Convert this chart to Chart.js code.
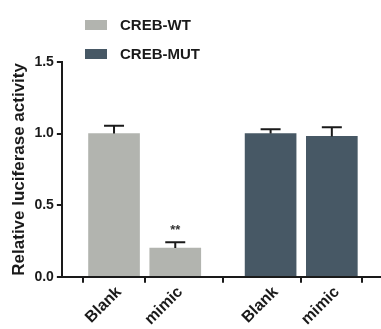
<!DOCTYPE html>
<html>
<head>
<meta charset="utf-8">
<script src="https://cdn.jsdelivr.net/npm/chart.js@4"></script>
<style>
  body { margin: 0; background: #fff; }
  #wrap { position: relative; width: 381px; height: 329px; }
  #legend { position: absolute; left: 85px; top: 10px; font: bold 15px "Liberation Sans", Arial, sans-serif; color: #1a1a1a; }
  .item { display: flex; align-items: center; height: 29px; }
  .box { width: 22px; height: 10px; margin-right: 13px; }
</style>
</head>
<body>
<div id="wrap">
  <canvas id="grafico"></canvas>
  <div id="legend"></div>
</div>
<script>
  const categorias = ['Blank', 'mimic', 'Blank', 'mimic']
  const seriesNomes = ['CREB-WT', 'CREB-MUT']
  const valoresWT = [1.0, 0.2]
  const errosWT = [0.055, 0.04]
  const valoresMUT = [1.0, 0.98]
  const errosMUT = [0.03, 0.065]
  const ticksY = [0, 0.5, 1.0, 1.5]
  const marcas = ['', '**', '', '']

  // where the four bars sit on the x axis (gap between the two groups)
  const posX = [1, 2, 3.557, 4.557]
  const cores = ['#b2b4af', '#475865']

  const fonte = '"Liberation Sans", Arial, sans-serif'

  const ds = [
    { label: seriesNomes[0], data: valoresWT.map((v, i) => ({ x: posX[i], y: v })), erros: errosWT, backgroundColor: cores[0] },
    { label: seriesNomes[1], data: valoresMUT.map((v, i) => ({ x: posX[i + 2], y: v })), erros: errosMUT, backgroundColor: cores[1] }
  ]

  const barrasErro = {
    id: 'barrasErro',
    afterDatasetsDraw(chart) {
      const c = chart.ctx
      const y = chart.scales.y
      c.save()
      c.strokeStyle = '#1a1a1a'
      c.lineWidth = 2
      const todos = []
      chart.data.datasets.forEach((d, di) => {
        chart.getDatasetMeta(di).data.forEach((bar, i) => {
          const topo = y.getPixelForValue(d.data[i].y + d.erros[i])
          todos.push({ bar, topo })
          c.beginPath()
          c.moveTo(bar.x, bar.y)
          c.lineTo(bar.x, topo)
          c.moveTo(bar.x - 10, topo)
          c.lineTo(bar.x + 10, topo)
          c.stroke()
        })
      })
      // significance marks
      c.fillStyle = '#333'
      c.font = 'bold 13px ' + fonte
      c.textAlign = 'center'
      todos.forEach((t, i) => {
        if (marcas[i]) c.fillText(marcas[i], t.bar.x, t.topo - 8)
      })
      c.restore()
    }
  }

  const grafico = new Chart(document.getElementById('grafico'), {
    type: 'bar',
    data: { datasets: ds },
    plugins: [barrasErro],
    options: {
      responsive: true,
      maintainAspectRatio: false,
      animation: false,
      layout: { padding: { top: 62, right: 0, left: 7, bottom: 0 } },
      datasets: { bar: { barThickness: 51, grouped: false } },
      plugins: { legend: { display: false }, tooltip: { enabled: false } },
      scales: {
        x: {
          type: 'linear',
          offset: false,
          min: 0.148,
          max: 5.36,
          afterBuildTicks: s => { s.ticks = posX.map(v => ({ value: v })) },
          grid: { drawOnChartArea: false, drawTicks: true, tickLength: 6, color: '#1a1a1a', lineWidth: 2 },
          border: { color: '#1a1a1a', width: 2 },
          ticks: {
            minRotation: 45, maxRotation: 45, padding: 0, labelOffset: 5,
            color: '#1a1a1a', font: { family: fonte, size: 16, weight: 'bold' },
            callback: (v, i) => categorias[i]
          }
        },
        y: {
          min: 0,
          max: 1.5,
          afterBuildTicks: s => { s.ticks = ticksY.map(v => ({ value: v })) },
          grid: { drawOnChartArea: false, drawTicks: true, tickLength: 5, color: '#1a1a1a', lineWidth: 2 },
          border: { color: '#1a1a1a', width: 2 },
          ticks: { color: '#1a1a1a', padding: 3, font: { family: fonte, size: 14, weight: 'bold' }, callback: v => v.toFixed(1) },
          title: { display: true, text: 'Relative luciferase activity', color: '#1a1a1a', padding: 2, font: { family: fonte, size: 17, weight: 'bold' } }
        }
      }
    }
  })

  const legenda = document.getElementById('legend')
  ds.forEach(d => {
    const item = document.createElement('div')
    item.className = 'item'
    const box = document.createElement('span')
    box.className = 'box'
    box.style.background = d.backgroundColor
    item.appendChild(box)
    item.appendChild(document.createTextNode(d.label))
    legenda.appendChild(item)
  })
</script>
</body>
</html>
